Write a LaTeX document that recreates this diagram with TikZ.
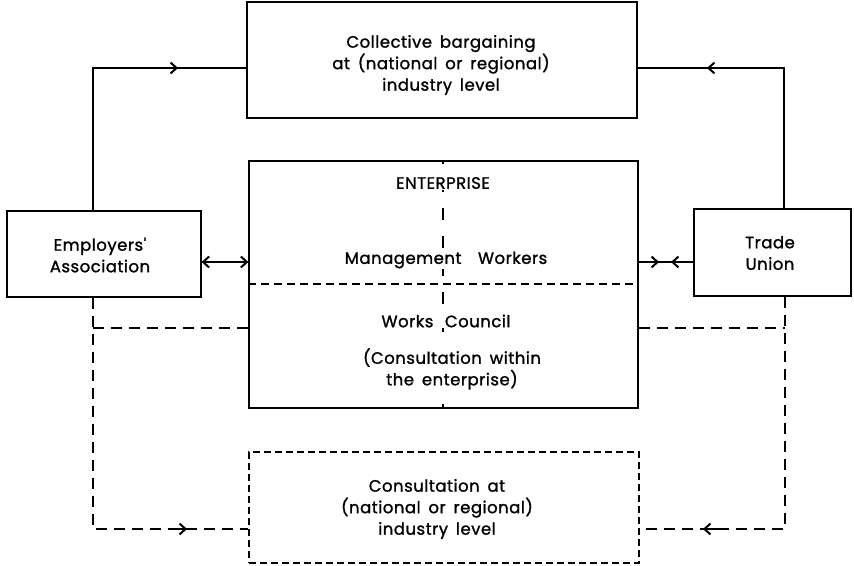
\documentclass[tikz,border=0pt]{standalone}
\usepackage{fontspec}
\setmainfont{Poppins}
\newfontfamily\dfont{Poppins}[FakeBold=1.3,LetterSpace=3,WordSpace=1.6]
\usetikzlibrary{arrows.meta,calc}
\begin{document}
\begin{tikzpicture}[x=1pt,y=-1pt,
  box/.style={draw, line width=1.3pt, inner sep=0pt},
  dbox/.style={draw, line width=1.3pt, inner sep=0pt, dash pattern=on 7pt off 4pt},
  lbl/.style={align=center, font=\dfont\fontsize{16.5}{21.5}\selectfont, inner sep=1pt},
  wlbl/.style={lbl, fill=white},
  conn/.style={line width=1.3pt},
  dconn/.style={line width=1.3pt, dash pattern=on 11pt off 7pt},
  barb/.tip={Straight Barb[length=6pt,width=11pt,line width=2pt]},
  tip/.style={-barb}]
\useasboundingbox (0,0) rectangle (854,565);
\fill[white] (0,0) rectangle (854,565);

% boxes
\node[box, minimum width=390pt, minimum height=116pt] (cb) at (442,60) {};
\node[box, minimum width=389pt, minimum height=247pt] (ent) at (443.5,284.5) {};
\node[box, minimum width=194pt, minimum height=86pt] (ea) at (104,254) {};
\node[box, minimum width=157pt, minimum height=87pt] (tu) at (772.5,252.5) {};
\node[dbox, minimum width=390pt, minimum height=111pt] (cons) at (444,507.5) {};

% inner enterprise dashed lines
\draw[line width=1.2pt, dash pattern=on 8pt off 5pt] (ent.west |- 0,284) -- (ent.east |- 0,284);
\draw[line width=1.3pt, dash pattern=on 12pt off 16pt, dash phase=8pt] (ent.north -| 443,0) -- (ent.south -| 443,0);

% labels
\node[lbl] (cbt) at (441,65) {Collective bargaining\\at (national or regional)\\industry level};
\node[lbl] (eat) at (100,255) {Employers'\\Association};
\node[lbl] (tut) at (770,253) {Trade\\Union};
\node[wlbl] (entt) at (443,183) {ENTERPRISE};
\node[wlbl] (mw) at (446,260) {Management\hspace{1em}Workers};
\node[wlbl] (wc) at (446,321) {Works\hspace{0.7em}Council};
\node[wlbl] (cwe) at (452,369) {(Consultation within\\the enterprise)};
\node[lbl] (const) at (437,509) {Consultation at\\(national or regional)\\industry level};

% coordinates for routing
\coordinate (lx) at (93,68);
\coordinate (rx) at (784,68);
\coordinate (lb) at (93,529);
\coordinate (rb) at (785,529);

% solid connectors to collective bargaining
\draw[conn] (ea.north -| lx) -- (lx) -- (cb.west |- lx);
\draw[conn, tip] (lx) -- (178,68);
\draw[conn] (tu.north -| rx) -- (rx) -- (cb.east |- rx);
\draw[conn, tip] (rx) -- (707,68);

% employers' association <-> enterprise
\draw[conn, barb-barb] (ea.east |- 0,262) -- (ent.west |- 0,262);
% trade union -> <- enterprise
\draw[conn] (ent.east |- 0,262) -- (tu.west |- 0,262);
\draw[conn, tip] (ent.east |- 0,262) -- (659,262);
\draw[conn, tip] (tu.west |- 0,262) -- (671,262);

% dashed consultation connectors
\draw[dconn] (ea.south -| lb) -- (lb) -- (cons.west |- lb);
\draw[dconn] (lx |- 0,328) -- (ent.west |- 0,328);
\draw[conn, tip] (170,529) -- (187,529);
\draw[dconn] (tu.south -| rb) -- (rb) -- (cons.east |- rb);
\draw[dconn] (ent.east |- 0,328) -- (rb |- 0,328);
\draw[conn, tip] (720,529) -- (703,529);
\end{tikzpicture}
\end{document}
